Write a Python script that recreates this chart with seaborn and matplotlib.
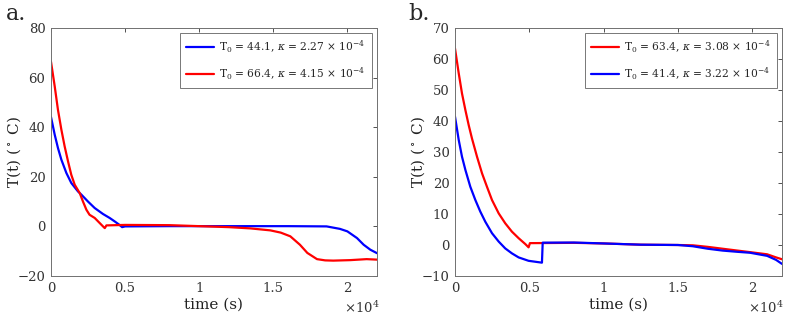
import matplotlib
matplotlib.use("Agg")
import matplotlib.pyplot as plt
import seaborn as sns
import pandas as pd

# ---- data (time in units of 1e4 s, temperature in deg C) ----
a_blue_t = [0, 0.025, 0.047, 0.07, 0.104, 0.137, 0.182, 0.205, 0.25, 0.295, 0.351, 0.396, 0.43,
            0.46, 0.48, 0.5, 0.8, 1.2, 1.6, 1.86, 1.95, 2.0, 2.065, 2.11, 2.155, 2.2]
a_blue_T = [44.1, 37, 31.6, 26.9, 21.5, 17.5, 14.1, 12.8, 10, 7.4, 5, 3.4, 2,
            0.7, -0.3, 0, 0.1, 0.1, 0.1, 0, -1, -2, -4.7, -7.4, -9.4, -10.8]

a_red_t = [0, 0.025, 0.047, 0.07, 0.092, 0.115, 0.137, 0.16, 0.194, 0.216, 0.239, 0.26, 0.295,
           0.318, 0.351, 0.363, 0.374, 0.5, 0.8, 1.0, 1.2, 1.345, 1.48, 1.55, 1.615, 1.68, 1.73,
           1.795, 1.85, 1.905, 2.02, 2.13, 2.2]
a_red_T = [66.4, 56.5, 47, 39, 32.3, 26.2, 20.8, 16.8, 13.4, 10, 6.7, 4.7, 3.4,
           2, 0, -0.7, 0.4, 0.6, 0.5, 0.1, -0.3, -0.8, -1.6, -2.5, -4, -7.4, -10.7,
           -13.2, -13.7, -13.8, -13.6, -13.2, -13.4]

b_red_t = [0, 0.025, 0.047, 0.07, 0.092, 0.114, 0.148, 0.182, 0.215, 0.249, 0.294, 0.338, 0.383,
           0.428, 0.473, 0.495, 0.504, 0.8, 1.0, 1.25, 1.5, 1.6, 1.7, 1.8, 1.9, 1.985, 2.1, 2.16,
           2.2]
b_red_T = [63.4, 55.4, 48.9, 43.5, 38.7, 34.4, 28.5, 23.1, 18.8, 14.5, 10.2, 7, 4.3,
           2.2, 0.3, -0.75, 0.6, 0.7, 0.5, 0.1, 0.0, -0.1, -0.6, -1.2, -1.8, -2.3, -3, -4,
           -4.6]

b_blue_t = [0, 0.025, 0.047, 0.07, 0.103, 0.137, 0.17, 0.204, 0.249, 0.294, 0.338, 0.383, 0.428,
            0.495, 0.585, 0.59, 0.8, 1.0, 1.25, 1.5, 1.6, 1.7, 1.8, 1.9, 1.985, 2.1, 2.16, 2.2]
b_blue_T = [41.4, 33.9, 28.5, 24.2, 18.8, 14.5, 10.8, 7.5, 3.8, 1.1, -1.1, -2.7, -4,
            -5.1, -5.7, 0.75, 0.8, 0.5, 0.1, 0, -0.4, -1.2, -1.8, -2.2, -2.5, -3.5, -4.8, -6.1]

a_labels = [r"T$_0$ = 44.1, $\kappa$ = 2.27 $\times$ 10$^{\mathrm{-4}}$",
            r"T$_0$ = 66.4, $\kappa$ = 4.15 $\times$ 10$^{\mathrm{-4}}$"]
b_labels = [r"T$_0$ = 63.4, $\kappa$ = 3.08 $\times$ 10$^{\mathrm{-4}}$",
            r"T$_0$ = 41.4, $\kappa$ = 3.22 $\times$ 10$^{\mathrm{-4}}$"]

x_ticks = [0, 0.5, 1, 1.5, 2]
x_ticklabels = ["0", "0.5", "1", "1.5", "2"]
a_yticks = [-20, 0, 20, 40, 60, 80]
b_yticks = [-10, 0, 10, 20, 30, 40, 50, 60, 70]

sns.set_style("white")
plt.rcParams["font.family"] = ["DejaVu Serif"]
plt.rcParams["mathtext.fontset"] = "dejavuserif"

fig = plt.figure(figsize=(7.85, 3.18), dpi=100)
axa = fig.add_axes([51 / 785, 42 / 318, 326 / 785, 248 / 318])
axb = fig.add_axes([455 / 785, 42 / 318, 327 / 785, 248 / 318])

BLUE = "#0000ff"
RED = "#ff0000"


def draw(ax, series, labels, yticks, ylim, x_right_px):
    for (t, T, c), lab in zip(series, labels):
        df = pd.DataFrame({"t": t, "T": T})
        sns.lineplot(data=df, x="t", y="T", ax=ax, color=c, lw=1.6, label=lab,
                     sort=False, estimator=None)
    ax.set_xlim(0, 2.2)
    ax.set_ylim(*ylim)
    ax.set_xticks(x_ticks)
    ax.set_xticklabels(x_ticklabels)
    ax.set_yticks(yticks)
    ax.tick_params(direction="in", top=True, right=True, length=3, width=0.6,
                   labelsize=9.5, colors="#333333", pad=4)
    for s in ax.spines.values():
        s.set_color("#707070")
        s.set_linewidth(0.7)
    ax.set_xlabel("time (s)", fontsize=11, labelpad=2, color="#222222")
    ax.set_ylabel(r"T(t) ($^\circ$ C)", fontsize=11, color="#222222")
    ax.yaxis.set_label_coords(-0.086, 0.5)
    leg = ax.legend(loc="upper right", fontsize=7.7, handlelength=2.6, frameon=True,
                    fancybox=False, borderaxespad=0.5, borderpad=0.55, labelspacing=0.95,
                    handletextpad=0.5)
    leg.get_frame().set_edgecolor("#555555")
    leg.get_frame().set_linewidth(0.7)
    fig.text(x_right_px / 785, 2 / 318, r"$\times$10$^{4}$", ha="right", va="bottom",
             fontsize=9.5, color="#333333")


draw(axa, [(a_blue_t, a_blue_T, BLUE), (a_red_t, a_red_T, RED)], a_labels, a_yticks,
     (-20, 80), 380)
draw(axb, [(b_red_t, b_red_T, RED), (b_blue_t, b_blue_T, BLUE)], b_labels, b_yticks,
     (-10, 70), 784)

fig.text(6 / 785, 1 - 3 / 318, "a.", fontsize=16, va="top", ha="left")
fig.text(408 / 785, 1 - 3 / 318, "b.", fontsize=16, va="top", ha="left")

fig.savefig("out.png", dpi=100)
